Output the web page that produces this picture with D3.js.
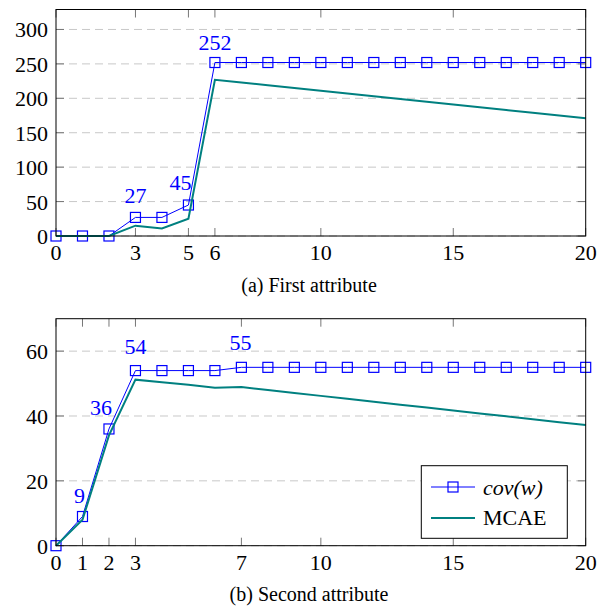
<!DOCTYPE html>
<html>
<head>
<meta charset="utf-8">
<script src="https://cdn.jsdelivr.net/npm/d3@7"></script>
<style>
  html, body { margin: 0; padding: 0; background: #fff; }
</style>
</head>
<body>
<svg id="chart" width="606" height="606" font-family="Liberation Serif, DejaVu Serif, serif"></svg>
<script>
// x positions (number of attributes)
var xs = d3.range(0, 21);

// (a) First attribute
var covA = [0, 0, 0, 27, 27, 45, 252, 252, 252, 252, 252, 252, 252, 252, 252, 252, 252, 252, 252, 252, 252];
var mcaeA = [0, 0, 0, 15, 11, 25, 227, 223, 219, 215, 211, 207, 203, 199, 195, 191, 187, 183, 179, 175, 171];
var xTicksA = [0, 3, 5, 6, 10, 15, 20];
var yTicksA = [0, 50, 100, 150, 200, 250, 300];
var labelsA = [3, 5, 6]; // indices with value labels

// (b) Second attribute
var covB = [0, 9, 36, 54, 54, 54, 54, 55, 55, 55, 55, 55, 55, 55, 55, 55, 55, 55, 55, 55, 55];
var mcaeB = [0, 8, 34, 51.2, 50.4, 49.6, 48.7, 48.9, 48, 47.1, 46.2, 45.3, 44.4, 43.5, 42.6, 41.7, 40.8, 39.9, 39, 38.1, 37.2];
var xTicksB = [0, 1, 2, 3, 7, 10, 15, 20];
var yTicksB = [0, 20, 40, 60];
var labelsB = [1, 2, 3, 7];

var seriesNames = ['cov(w)', 'MCAE'];
var captions = ['(a) First attribute', '(b) Second attribute'];

// label nudges (style only)
var nudge = { a: {3: [0, -14], 5: [-8, -15], 6: [0, -13]},
              b: {1: [-3, -13.5], 2: [-8, -14], 3: [0, -17], 7: [-1, -17]} };

var BLUE = '#0000ff', TEAL = '#008080';
var svg = d3.select('#chart');

function panel(opt) {
  var g = svg.append('g');
  var x = d3.scaleLinear().domain([0, 20]).range([56, 585.7]);
  var y = d3.scaleLinear().domain(opt.yDomain).range([opt.bottom, opt.top]);

  // grid
  g.selectAll('.grid').data(opt.yTicks).enter().append('line')
    .attr('x1', x(0)).attr('x2', x(20))
    .attr('y1', function(d) { return y(d); }).attr('y2', function(d) { return y(d); })
    .attr('stroke', '#c8c8c8').attr('stroke-width', 1).attr('stroke-dasharray', '8,5');

  // ticks (inside, all four sides)
  var tl = 8;
  opt.xTicks.forEach(function(t) {
    g.append('line').attr('x1', x(t)).attr('x2', x(t)).attr('y1', opt.bottom).attr('y2', opt.bottom - tl)
      .attr('stroke', '#777').attr('stroke-width', 1);
    g.append('line').attr('x1', x(t)).attr('x2', x(t)).attr('y1', opt.top).attr('y2', opt.top + tl)
      .attr('stroke', '#777').attr('stroke-width', 1);
  });
  opt.yTicks.forEach(function(t) {
    g.append('line').attr('x1', x(0)).attr('x2', x(0) + tl).attr('y1', y(t)).attr('y2', y(t))
      .attr('stroke', '#777').attr('stroke-width', 1);
    g.append('line').attr('x1', x(20)).attr('x2', x(20) - tl).attr('y1', y(t)).attr('y2', y(t))
      .attr('stroke', '#777').attr('stroke-width', 1);
  });

  // tick labels
  g.selectAll('.xl').data(opt.xTicks).enter().append('text')
    .attr('x', function(d) { return x(d); }).attr('y', opt.bottom + 24)
    .attr('text-anchor', 'middle').attr('font-size', 22).text(function(d) { return d; });
  g.selectAll('.yl').data(opt.yTicks).enter().append('text')
    .attr('x', 48).attr('y', function(d) { return y(d) + 8; })
    .attr('text-anchor', 'end').attr('font-size', 22).text(function(d) { return d; });

  var line = d3.line().x(function(d, i) { return x(xs[i]); }).y(function(d) { return y(d); });

  // cov(w)
  g.append('path').datum(opt.cov).attr('d', line)
    .attr('fill', 'none').attr('stroke', BLUE).attr('stroke-width', 1);
  g.selectAll('.mk').data(opt.cov).enter().append('rect')
    .attr('x', function(d, i) { return x(xs[i]) - 5; }).attr('y', function(d) { return y(d) - 5; })
    .attr('width', 10).attr('height', 10)
    .attr('fill', 'none').attr('stroke', BLUE).attr('stroke-width', 1.2);

  // MCAE
  g.append('path').datum(opt.mcae).attr('d', line)
    .attr('fill', 'none').attr('stroke', TEAL).attr('stroke-width', 2);

  // value labels
  g.selectAll('.vl').data(opt.labels).enter().append('text')
    .attr('x', function(i) { return x(xs[i]) + opt.nudge[i][0]; })
    .attr('y', function(i) { return y(opt.cov[i]) + opt.nudge[i][1]; })
    .attr('text-anchor', 'middle').attr('font-size', 22).attr('fill', BLUE)
    .text(function(i) { return opt.cov[i]; });

  // frame
  g.append('rect').attr('x', x(0)).attr('y', opt.top)
    .attr('width', x(20) - x(0)).attr('height', opt.bottom - opt.top)
    .attr('fill', 'none').attr('stroke', '#000').attr('stroke-width', 1);

  // caption
  g.append('text').attr('x', 309).attr('y', opt.captionY)
    .attr('text-anchor', 'middle').attr('font-size', 20).text(opt.caption);

  return { g: g, x: x, y: y };
}

panel({ cov: covA, mcae: mcaeA, xTicks: xTicksA, yTicks: yTicksA, labels: labelsA, nudge: nudge.a,
        yDomain: [0, 329], top: 9.5, bottom: 236, caption: captions[0], captionY: 291.5 });
var pb = panel({ cov: covB, mcae: mcaeB, xTicks: xTicksB, yTicks: yTicksB, labels: labelsB, nudge: nudge.b,
        yDomain: [0, 70], top: 318.7, bottom: 545.7, caption: captions[1], captionY: 601 });

// legend
var lg = pb.g.append('g');
lg.append('rect').attr('x', 421.3).attr('y', 465.7).attr('width', 146).attr('height', 72.6)
  .attr('fill', '#fff').attr('stroke', '#000').attr('stroke-width', 1);
lg.append('line').attr('x1', 431).attr('x2', 475).attr('y1', 487).attr('y2', 487)
  .attr('stroke', BLUE).attr('stroke-width', 1);
lg.append('rect').attr('x', 448).attr('y', 482).attr('width', 10).attr('height', 10)
  .attr('fill', 'none').attr('stroke', BLUE).attr('stroke-width', 1.2);
lg.append('line').attr('x1', 431).attr('x2', 475).attr('y1', 518).attr('y2', 518)
  .attr('stroke', TEAL).attr('stroke-width', 2);
lg.append('text').attr('x', 483).attr('y', 495).attr('font-size', 22).attr('font-style', 'italic')
  .text(seriesNames[0]);
lg.append('text').attr('x', 483).attr('y', 525).attr('font-size', 22)
  .text(seriesNames[1]);
</script>
</body>
</html>
